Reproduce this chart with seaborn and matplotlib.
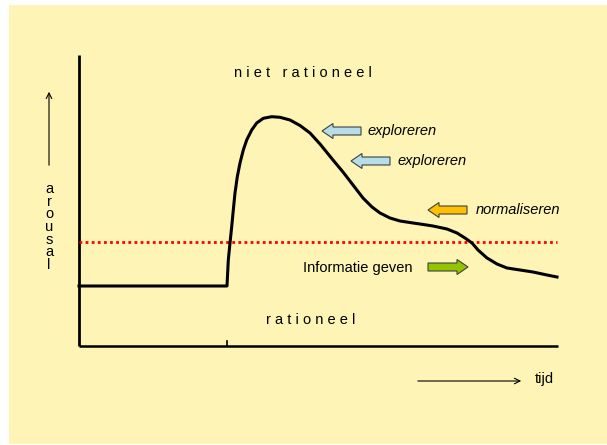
import matplotlib
matplotlib.use("Agg")
import matplotlib.pyplot as plt
from matplotlib.patches import Rectangle, FancyArrow
import seaborn as sns
import pandas as pd

# curve (pixel units, y grows downward)
tijd = [79, 227, 228.3, 230, 231.7, 233.3, 235, 237.3, 240, 243.3, 246.7, 251.7,
        256.7, 263.3, 271.7, 280, 290, 300, 310, 320, 333, 343, 353, 363, 372,
        380, 390, 400, 413, 420, 433, 447, 457, 465, 472, 478, 487, 497, 507,
        520, 533, 547, 557]
arousal = [286, 286, 260, 243, 226.7, 210, 193, 176.7, 163, 150, 140, 130,
           123, 118.3, 116.7, 117.3, 120, 125.5, 133, 144, 160, 172, 185, 198, 207,
           213, 218, 221, 223, 224, 226, 229, 233, 238, 243, 250, 258, 264, 268,
           270, 272, 275, 277]

drempel = 242  # red dotted threshold

labels_links = ["exploreren", "exploreren", "normaliseren"]
pijl_kleuren = ["#B7DDE8", "#B7DDE8", "#FFC000"]

plt.rcParams['font.family'] = ['Liberation Sans', 'DejaVu Sans']

fig = plt.figure(figsize=(6.07, 4.45), dpi=100)
ax = fig.add_axes([0, 0, 1, 1])

# background
ax.add_patch(Rectangle((9, 5), 598, 439, facecolor="#FEF4B6", edgecolor="none", zorder=0))

# axes of the diagram
ax.plot([79, 79], [55, 346], color="black", lw=2, solid_capstyle="butt")
ax.plot([79, 558], [346, 346], color="black", lw=1.8, solid_capstyle="butt")
ax.plot([227, 227], [341, 346], color="black", lw=1.2)

# threshold
ax.plot([79, 557], [drempel, drempel], color="#FF0000", lw=2, linestyle=(0, (1, 1.2)))

df = pd.DataFrame({"tijd": tijd, "arousal": arousal})
sns.lineplot(data=df, x="tijd", y="arousal", sort=False, estimator=None,
             color="black", lw=2.2, ax=ax)
ax.lines[-1].set_solid_joinstyle("round")
ax.set_xlim(0, 607)
ax.set_ylim(445, 0)
ax.axis("off")

# texts
fs = 10.5
ax.text(303, 73, "n i e t   r a t i o n e e l", fontsize=fs, ha="center", va="center")
ax.text(311, 320, "r a t i o n e e l", fontsize=fs, ha="center", va="center")
for i, ch in enumerate("arousal"):
    ax.text(49, 189 + i * 12.7, ch, fontsize=fs, ha="center", va="center")
ax.annotate("", xy=(49, 89), xytext=(49, 168),
            arrowprops=dict(arrowstyle="->", lw=0.8, color="black"))
ax.annotate("", xy=(524, 381), xytext=(415, 381),
            arrowprops=dict(arrowstyle="->", lw=0.8, color="black"))
ax.text(535, 379, "tijd", fontsize=fs, ha="left", va="center")

# block arrows
pijl_x = [361, 390, 467]
pijl_y = [131, 161, 210]
tekst_x = [367, 397, 476]
for x, y, c, t, tx in zip(pijl_x, pijl_y, pijl_kleuren, labels_links, tekst_x):
    ax.add_patch(FancyArrow(x, y, -39, 0, width=8, head_width=15, head_length=11,
                            length_includes_head=True, facecolor=c,
                            edgecolor="#404040", lw=0.8, zorder=3))
    ax.text(tx, y, t, fontsize=fs, style="italic", ha="left", va="center")

ax.add_patch(FancyArrow(428, 267, 40, 0, width=8, head_width=15, head_length=11,
                        length_includes_head=True, facecolor="#92C400",
                        edgecolor="#404040", lw=0.8, zorder=3))
ax.text(303, 268, "Informatie geven", fontsize=fs, ha="left", va="center")

fig.savefig("out.png", dpi=100)
